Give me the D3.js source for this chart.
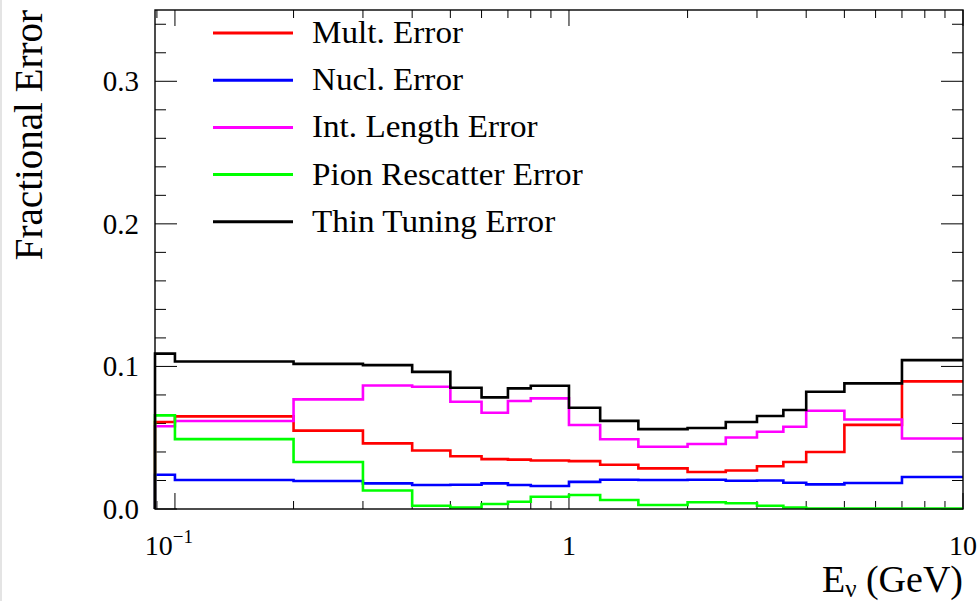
<!DOCTYPE html>
<html><head><meta charset="utf-8">
<script src="https://cdn.jsdelivr.net/npm/d3@7/dist/d3.min.js"></script>
<style>body{margin:0;background:#fff}svg{display:block}text{font-family:"Liberation Serif","Times New Roman",serif;fill:#000}</style>
</head><body><svg id="c" width="978" height="601"></svg>
<script>
// Bin edges (GeV)
const edges = [0.089, 0.1, 0.2, 0.3, 0.4, 0.5, 0.6, 0.7, 0.8, 1.0, 1.2, 1.5, 2, 2.5, 3, 3.5, 4, 5, 7, 10];
const multErr   = [0.061, 0.065, 0.055, 0.046, 0.041, 0.037, 0.035, 0.0346, 0.034, 0.0336, 0.031, 0.0285, 0.026, 0.027, 0.030, 0.033, 0.040, 0.059, 0.0895];
const nuclErr   = [0.024, 0.0203, 0.0196, 0.018, 0.0168, 0.017, 0.018, 0.0168, 0.0161, 0.019, 0.0205, 0.0203, 0.0205, 0.0198, 0.020, 0.0184, 0.0173, 0.0182, 0.0224];
const intLenErr = [0.058, 0.0617, 0.0769, 0.0866, 0.0857, 0.0752, 0.0675, 0.0757, 0.0776, 0.0589, 0.0489, 0.0437, 0.0456, 0.0502, 0.0542, 0.0577, 0.0689, 0.0628, 0.0495];
const pionErr   = [0.0657, 0.049, 0.033, 0.013, 0.0023, 0.001, 0.0035, 0.0051, 0.0086, 0.0098, 0.0063, 0.0028, 0.0047, 0.004, 0.0023, 0.001, 0.0003, 0.0003, 0.0003];
const thinErr   = [0.109, 0.1035, 0.1018, 0.1009, 0.0962, 0.085, 0.0783, 0.0846, 0.0864, 0.071, 0.0618, 0.056, 0.0568, 0.061, 0.0652, 0.0694, 0.0822, 0.0881, 0.1044];
const seriesNames = ["Mult. Error", "Nucl. Error", "Int. Length Error", "Pion Rescatter Error", "Thin Tuning Error"];
const seriesColors = ["#ff0000", "#0000ff", "#ff00ff", "#00ff00", "#000000"];
const yTicks = [0.0, 0.1, 0.2, 0.3];
const xMajor = [0.1, 1, 10];
const xDomain = [0.089, 10];
const yDomain = [0, 0.35];

const svg = d3.select("#c");
const W = 978, H = 601;
const m = {l:155, r:15, t:10, b:92};
const x = d3.scaleLog().domain(xDomain).range([m.l, W - m.r]);
const y = d3.scaleLinear().domain(yDomain).range([H - m.b, m.t]);
const allSeries = [multErr, nuclErr, intLenErr, pionErr, thinErr];

// left faint page border
svg.append("rect").attr("x",0).attr("y",0).attr("width",2).attr("height",H).attr("fill","#e4e4e4");

// ticks
const g = svg.append("g").attr("stroke","#000").attr("stroke-width",1);
const yMinor = d3.range(0, 0.35001, 0.02);
yMinor.forEach(v=>{
  const major = Math.abs(v*10 - Math.round(v*10)) < 1e-6;
  const len = major ? 22 : 11;
  g.append("line").attr("x1",m.l).attr("x2",m.l+len).attr("y1",y(v)).attr("y2",y(v));
  g.append("line").attr("x1",W-m.r).attr("x2",W-m.r-len).attr("y1",y(v)).attr("y2",y(v));
});
const xTickVals = [];
[0.01,0.1,1].forEach(d=>{ for(let k=1;k<10;k++){ const v=d*k; if(v>=xDomain[0]&&v<=xDomain[1]) xTickVals.push(v);} });
xTickVals.push(10);
xTickVals.forEach(v=>{
  const major = xMajor.some(t=>Math.abs(t-v)<1e-9);
  const len = major ? 16 : 8;
  g.append("line").attr("x1",x(v)).attr("x2",x(v)).attr("y1",H-m.b).attr("y2",H-m.b-len);
  g.append("line").attr("x1",x(v)).attr("x2",x(v)).attr("y1",m.t).attr("y2",m.t+len);
});

// histograms
const line = d3.line();
allSeries.forEach((vals,i)=>{
  const pts = [[x(edges[0]), y(0)]];
  vals.forEach((v,j)=>{ pts.push([x(edges[j]), y(v)]); pts.push([x(edges[j+1]), y(v)]); });
  svg.append("path").attr("d", line(pts)).attr("fill","none")
    .attr("stroke", seriesColors[i]).attr("stroke-width",2.6).attr("stroke-linejoin","miter");
});

// frame
svg.append("rect").attr("x",m.l).attr("y",m.t).attr("width",W-m.l-m.r).attr("height",H-m.t-m.b)
  .attr("fill","none").attr("stroke","#000").attr("stroke-width",1.4);

// y tick labels
yTicks.forEach(v=>{
  svg.append("text").attr("x",139).attr("y",y(v)+10).attr("text-anchor","end")
    .style("font-size","29px").text(v.toFixed(1));
});
// x tick labels
xMajor.forEach(v=>{
  const t = svg.append("text").attr("x",x(v)).attr("y",555).attr("text-anchor","middle").style("font-size","28px");
  if (v < 1) {
    t.attr("x", x(v)-6);
    t.append("tspan").text("10");
    t.append("tspan").attr("dy",-12).style("font-size","19px").text("\u22121");
  } else t.text(d3.format("d")(v));
});

// axis titles
svg.append("text").attr("transform",`translate(42,${m.t}) rotate(-90)`).attr("text-anchor","end")
  .style("font-size","39px").text("Fractional Error");
const xt = svg.append("text").attr("x",W-m.r).attr("y",592).attr("text-anchor","end").style("font-size","38px");
xt.append("tspan").text("E");
xt.append("tspan").attr("dy",5).style("font-size","25px").text("\u03bd");
xt.append("tspan").attr("dy",-5).text(" (GeV)");

// legend
seriesNames.forEach((n,i)=>{
  const ly = 33 + i*47.2;
  svg.append("line").attr("x1",213).attr("x2",293).attr("y1",ly).attr("y2",ly)
    .attr("stroke",seriesColors[i]).attr("stroke-width",3);
  svg.append("text").attr("transform",`translate(312,${ly+10}) scale(1.07,1)`)
    .style("font-size","31px").text(n);
});
</script></body></html>
